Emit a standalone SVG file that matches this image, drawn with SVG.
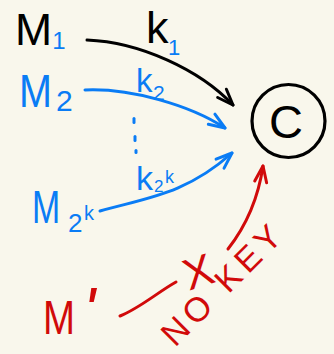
<svg xmlns="http://www.w3.org/2000/svg" width="334" height="354" viewBox="0 0 334 354">
<style>
.t{font-family:"Liberation Sans","DejaVu Sans",sans-serif}
.k{fill:#000}
.b{fill:#0a7cf5}
.r{fill:#d10a0a}
.ln{fill:none;stroke-width:3;stroke-linecap:round;stroke-linejoin:round}
</style>
<defs>
<marker id="ak" markerUnits="userSpaceOnUse" orient="auto" overflow="visible" refX="0" refY="0" markerWidth="20" markerHeight="20"><path d="M-16,-6 L0,0 L-16,6" fill="none" stroke="#000" stroke-width="3" stroke-linecap="round" stroke-linejoin="round"/></marker>
<marker id="ab" markerUnits="userSpaceOnUse" orient="auto" overflow="visible" refX="0" refY="0" markerWidth="20" markerHeight="20"><path d="M-16,-6 L0,0 L-16,6" fill="none" stroke="#0a7cf5" stroke-width="3" stroke-linecap="round" stroke-linejoin="round"/></marker>
<marker id="ar" markerUnits="userSpaceOnUse" orient="auto" overflow="visible" refX="0" refY="0" markerWidth="20" markerHeight="20"><path d="M-16,-6 L0,0 L-16,6" fill="none" stroke="#d10a0a" stroke-width="3" stroke-linecap="round" stroke-linejoin="round"/></marker>
</defs>
<rect width="334" height="354" fill="#f9f7ec"/>
<g id="connectors">
<path class="ln" stroke="#000" d="M87,40 C140,42 200,70 233,105" marker-end="url(#ak)"/>
<path class="ln" stroke="#0a7cf5" d="M85,90 C130,88 190,105 225,128" marker-end="url(#ab)"/>
<path class="ln" stroke="#0a7cf5" d="M100,211 C145,198 185,195 232,153" marker-end="url(#ab)"/>
<path class="ln" stroke="#d10a0a" d="M120,316 C140,308 158,292 176,282"/>
<path class="ln" stroke="#d10a0a" d="M228,249 C246,226 258,200 263,166" marker-end="url(#ar)"/>
<g fill="#0a7cf5">
<rect x="132.5" y="117" width="3" height="7" rx="1.5"/>
<rect x="133.5" y="135" width="3" height="7" rx="1.5"/>
<rect x="134.5" y="149" width="3" height="5" rx="1.5"/>
</g>
<text class="t k" x="146" y="43" font-size="45">k</text>
<text class="t b" x="174" y="55" font-size="22" text-anchor="middle">1</text>
<text class="t b" x="136" y="92" font-size="33">k</text>
<text class="t b" x="153" y="100" font-size="21">2</text>
<text class="t b" x="136" y="190" font-size="34">k</text>
<text class="t b" x="154" y="192" font-size="17">2</text>
<text class="t b" x="165" y="183" font-size="18">k</text>
<text class="t r" font-size="44" text-anchor="middle" transform="translate(198,271) rotate(-18)" y="16">X</text>
<text class="t r" font-size="34" transform="translate(175,331) rotate(-45)" x="-12" y="12" textLength="154" lengthAdjust="spacing">NO KEY</text>
</g>
<g id="M1">
<text class="t k" font-size="45" transform="translate(15,45) scale(0.99,1)">M</text>
<text class="t b" x="59" y="49" font-size="24" text-anchor="middle">1</text>
</g>
<g id="M2">
<text class="t b" font-size="46" transform="translate(19,107) scale(0.86,1)">M</text>
<text class="t b" x="56" y="111" font-size="30">2</text>
</g>
<g id="M2k">
<text class="t b" font-size="47" transform="translate(32,223) scale(0.72,1)">M</text>
<text class="t b" x="68" y="232" font-size="26">2</text>
<text class="t b" x="84" y="220" font-size="20">k</text>
</g>
<g id="Mprime">
<text class="t r" font-size="48" transform="translate(43,334) scale(0.8,1)">M</text>
<text class="t r" x="83" y="333" font-size="64" font-style="italic">'</text>
</g>
<g id="C">
<circle cx="288.5" cy="121" r="36.5" fill="none" stroke="#000" stroke-width="3.2"/>
<text class="t k" x="286" y="137.5" font-size="47" text-anchor="middle">C</text>
</g>
</svg>
